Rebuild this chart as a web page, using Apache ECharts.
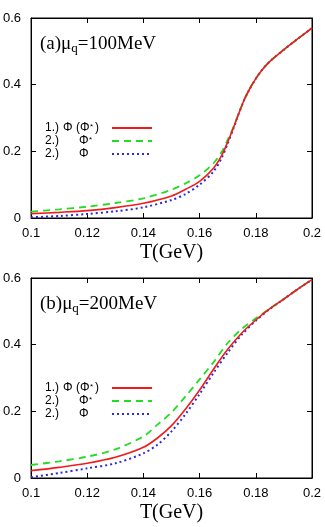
<!DOCTYPE html>
<html>
<head>
<meta charset="utf-8">
<script src="https://cdn.jsdelivr.net/npm/echarts@6/dist/echarts.min.js"></script>
<style>
html, body { margin: 0; padding: 0; background: #fff; }
#main { width: 325px; height: 527px; }
</style>
</head>
<body>
<div id="main"></div>
<script>
// panel (a) mu_q = 100 MeV
var tA = [0.1, 0.11, 0.12, 0.13, 0.14, 0.15, 0.155, 0.16, 0.165, 0.168, 0.17, 0.172, 0.174, 0.176, 0.178, 0.18, 0.182, 0.185, 0.19, 0.195, 0.2];
var redA = [0.013, 0.017, 0.022, 0.031, 0.044, 0.066, 0.086, 0.11, 0.15, 0.19, 0.228, 0.27, 0.315, 0.357, 0.39, 0.418, 0.442, 0.47, 0.505, 0.538, 0.57];
var greenA = [0.019, 0.026, 0.034, 0.045, 0.059, 0.085, 0.104, 0.128, 0.165, 0.2, 0.235, 0.272, 0.315, 0.357, 0.39, 0.418, 0.442, 0.47, 0.505, 0.538, 0.57];
var blueA = [0.002, 0.006, 0.012, 0.02, 0.032, 0.054, 0.072, 0.1, 0.14, 0.183, 0.224, 0.268, 0.315, 0.357, 0.39, 0.418, 0.442, 0.47, 0.505, 0.538, 0.57];

// panel (b) mu_q = 200 MeV
var tB = [0.1, 0.11, 0.12, 0.13, 0.14, 0.145, 0.15, 0.155, 0.16, 0.165, 0.17, 0.175, 0.18, 0.185, 0.19, 0.195, 0.2];
var redB = [0.022, 0.032, 0.044, 0.062, 0.092, 0.12, 0.157, 0.207, 0.264, 0.327, 0.386, 0.435, 0.474, 0.508, 0.537, 0.567, 0.595];
var greenB = [0.039, 0.05, 0.064, 0.086, 0.125, 0.16, 0.197, 0.245, 0.296, 0.348, 0.405, 0.447, 0.479, 0.508, 0.537, 0.567, 0.595];
var blueB = [0.002, 0.015, 0.029, 0.044, 0.074, 0.1, 0.14, 0.192, 0.252, 0.316, 0.376, 0.43, 0.472, 0.507, 0.537, 0.567, 0.595];

var seriesNames = ['1.) Φ (Φ*)', '2.)    Φ*', '2.)    Φ'];
var colors = ['#ee1c1c', '#22dd22', '#2b2bd8'];
var titles = ['(a)μ{q|q}=100MeV', '(b)μ{q|q}=200MeV'];

function pairs(xs, ys) {
  return xs.map(function (x, i) { return [x, ys[i]]; });
}

var myChart = echarts.init(document.getElementById('main'));

var serifFont = '"Liberation Serif", "DejaVu Serif", serif';
var sansFont = '"Liberation Sans", Arial, sans-serif';

function xAxes(gi) {
  return [{
    type: 'value', gridIndex: gi, min: 0.1, max: 0.2, interval: 0.02,
    name: 'T(GeV)', nameLocation: 'middle', nameGap: 25,
    nameTextStyle: { fontFamily: serifFont, fontSize: 20, color: '#000' },
    axisLine: { onZero: false, lineStyle: { color: '#000', width: 1 } },
    axisTick: { inside: true, length: 5, lineStyle: { color: '#000' } },
    axisLabel: {
      margin: 9, fontFamily: sansFont, fontSize: 13, color: '#000',
      formatter: function (v) { return String(parseFloat(v.toFixed(2))); }
    },
    splitLine: { show: false }
  }, {
    type: 'value', gridIndex: gi, min: 0.1, max: 0.2, interval: 0.02, position: 'top',
    axisLine: { show: true, onZero: false, lineStyle: { color: '#000', width: 1 } },
    axisTick: { show: true, inside: true, length: 5, lineStyle: { color: '#000' } },
    axisLabel: { show: false }, splitLine: { show: false }
  }];
}

function yAxes(gi) {
  return [{
    type: 'value', gridIndex: gi, min: 0, max: 0.6, interval: 0.2,
    axisLine: { show: true, onZero: false, lineStyle: { color: '#000', width: 1 } },
    axisTick: { show: true, inside: true, length: 5, lineStyle: { color: '#000' } },
    axisLabel: {
      margin: 10, fontFamily: sansFont, fontSize: 13, color: '#000',
      formatter: function (v) { return String(parseFloat(v.toFixed(1))); }
    },
    splitLine: { show: false }
  }, {
    type: 'value', gridIndex: gi, min: 0, max: 0.6, interval: 0.2, position: 'right',
    axisLine: { show: true, onZero: false, lineStyle: { color: '#000', width: 1 } },
    axisTick: { show: true, inside: true, length: 5, lineStyle: { color: '#000' } },
    axisLabel: { show: false }, splitLine: { show: false }
  }];
}

var styles = [
  { width: 1.6, type: 'solid' },
  { width: 1.8, type: [7, 5] },
  { width: 2, type: [2, 3] }
];

// green curve is attached to the mirrored top/right axes (same ranges)
function makeSeries(first, xs, ysList) {
  return ysList.map(function (ys, k) {
    var off = k === 1 ? 1 : 0;
    return {
      name: seriesNames[k], type: 'line',
      xAxisIndex: first + off, yAxisIndex: first + off,
      data: pairs(xs, ys), smooth: 0.3,
      symbol: 'none', showSymbol: false, silent: true,
      lineStyle: { color: colors[k], width: styles[k].width, type: styles[k].type },
      itemStyle: { color: colors[k] },
      z: 3 - k
    };
  });
}

function rs(w, extra) {
  return Object.assign({ width: w, align: 'left', lineHeight: 11, fontFamily: sansFont, fontSize: 12, color: '#000' }, extra || {});
}
var legendRich = {
  n: rs(18), m: rs(34), a: rs(27), b: rs(10), c: rs(12), e: rs(13), f: rs(18),
  s: rs(5, { fontSize: 8, verticalAlign: 'top', padding: [0, 0, 4, 0] })
};

function legendFmt(name) {
  if (name === seriesNames[0]) return '{n|1.)}{a|Φ (Φ}{s|*}{c|)}';
  if (name === seriesNames[1]) return '{m|2.)}{b|Φ}{s|*}{e| }';
  return '{m|2.)}{b|Φ}{f| }';
}

function makeLegend(top) {
  return {
    orient: 'vertical', left: 45, top: top, align: 'right',
    itemWidth: 40, itemHeight: 8, itemGap: 0.5, padding: 0,
    data: seriesNames, selectedMode: false,
    formatter: legendFmt,
    itemStyle: { opacity: 0 },
    textStyle: { rich: legendRich }
  };
}

var option = {
  animation: false,
  backgroundColor: '#fff',
  title: titles.map(function (txt, i) {
    return {
      text: txt, left: 35, top: i === 0 ? 28 : 288,
      textStyle: {
        fontFamily: serifFont, fontSize: 19, fontWeight: 'normal', color: '#000',
        rich: { q: { fontFamily: serifFont, fontSize: 13, color: '#000', verticalAlign: 'bottom', padding: [9, 0, 0, 0] } }
      }
    };
  }),
  legend: [makeLegend(122), makeLegend(382)],
  grid: [
    { left: 30, right: 13, top: 18, height: 200, show: true, borderColor: '#000', borderWidth: 1 },
    { left: 30, right: 13, top: 278, height: 200, show: true, borderColor: '#000', borderWidth: 1 }
  ],
  xAxis: xAxes(0).concat(xAxes(1)),
  yAxis: yAxes(0).concat(yAxes(1)),
  series: makeSeries(0, tA, [redA, greenA, blueA])
    .concat(makeSeries(2, tB, [redB, greenB, blueB]))
};

myChart.setOption(option);
</script>
</body>
</html>
